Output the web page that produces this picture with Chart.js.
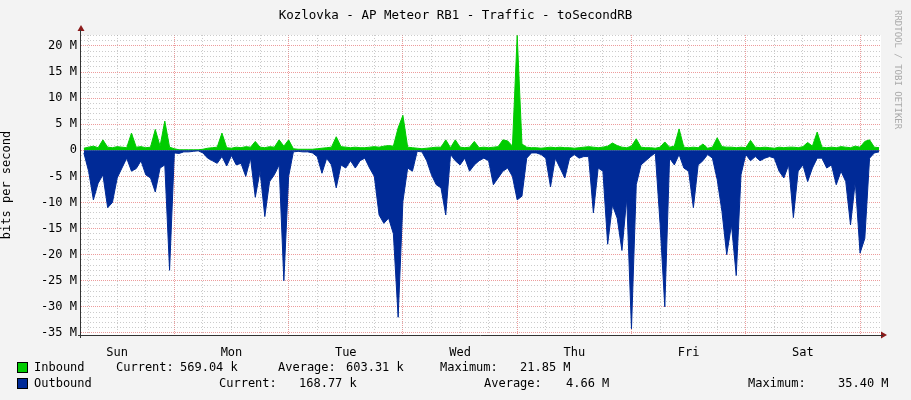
<!DOCTYPE html>
<html><head><meta charset="utf-8">
<script src="https://cdn.jsdelivr.net/npm/chart.js@4"></script>
<style>
body{margin:0;background:#f3f3f3;width:911px;height:400px;overflow:hidden;font-family:"DejaVu Sans Mono",monospace;}
#wrap{position:absolute;left:0;top:0;width:911px;height:400px;}
#title{position:absolute;top:7px;left:0;width:911px;text-align:center;font-size:12.5px;color:#000;}
#side{position:absolute;left:893px;top:10px;writing-mode:vertical-rl;font-size:9px;color:#aaa;}
.leg{position:absolute;font-size:12px;color:#000;white-space:pre;}
.sw{position:absolute;width:9px;height:9px;border:1px solid #000;}
</style></head><body>
<div id="wrap"><canvas id="c" width="911" height="400"></canvas></div>
<div id="title">Kozlovka - AP Meteor RB1 - Traffic - toSecondRB</div>
<div id="side">RRDTOOL / TOBI OETIKER</div>
<div class="sw" style="left:17px;top:362px;background:#00cc00"></div>
<div class="leg" style="left:34px;top:360px">Inbound</div>
<div class="leg" style="left:116px;top:360px">Current:</div>
<div class="leg" style="left:180px;top:360px">569.04 k</div>
<div class="leg" style="left:278px;top:360px">Average:</div>
<div class="leg" style="left:346px;top:360px">603.31 k</div>
<div class="leg" style="left:440px;top:360px">Maximum:</div>
<div class="leg" style="left:520px;top:360px">21.85 M</div>
<div class="sw" style="left:17px;top:378px;background:#002a97"></div>
<div class="leg" style="left:34px;top:376px">Outbound</div>
<div class="leg" style="left:219px;top:376px">Current:</div>
<div class="leg" style="left:299px;top:376px">168.77 k</div>
<div class="leg" style="left:484px;top:376px">Average:</div>
<div class="leg" style="left:566px;top:376px">4.66 M</div>
<div class="leg" style="left:748px;top:376px">Maximum:</div>
<div class="leg" style="left:838px;top:376px">35.40 M</div>
<script>
const startHour = 5; // first sample: Sunday 05:00 (hours since Sunday 00:00)
const dayLabels = ["Sun","Mon","Tue","Wed","Thu","Fri","Sat"];
const yTicks = [-35,-30,-25,-20,-15,-10,-5,0,5,10,15,20];
const outbound = [
-0.5,-4,-9.5,-6.3,-4.7,-11,-10,-5.3,-3.4,-1.5,-4,-3.5,-2,-4.7,-5.3,-8,-3.4,-2.8,-23,-0.5,
-0.6,-0.3,-0.3,-0.2,-0.1,-0.5,-1.5,-2,-2.5,-1.2,-3,-1,-2.8,-2.5,-5,-1.5,-9,-4,-12.7,-6,-4.7,-2.8,-25,-5,
-0.3,-0.2,-0.3,-0.3,-0.5,-1.2,-4.4,-1.5,-2.8,-7.2,-2.8,-3.4,-2,-3.4,-2,-1.5,-3.4,-5,-12.4,-14,-13,-16,-32,-9.8,
-3.4,-4,-0.2,-0.3,-2,-4.7,-6.6,-7.2,-12.4,-0.8,-2,-2.8,-1.5,-4,-2.8,-2,-1.5,-2,-6.6,-5.3,-4,-3.4,-5,-9.5,
-8.8,-1.5,-0.5,-0.5,-0.8,-1.5,-7,-1.5,-3.4,-5.3,-1.5,-0.8,-1.5,-1.2,-1.2,-12,-3.4,-4,-18,-10.5,-13,-19.2,-9.2,-34.2,
-6.6,-2.8,-2,-1.2,-0.5,-14,-30,-1.5,-2.8,-0.8,-3.4,-4,-11,-2.8,-2,-0.8,-1.5,-5.6,-11.7,-20,-14.3,-24,-4.7,-0.8,
-2,-1.2,-2,-1.5,-1.2,-1.5,-4,-5.3,-2.8,-12.9,-4,-2.8,-6,-3.4,-1.5,-1.5,-3.4,-2.8,-6.6,-4,-6,-14.3,-6,-19.7,
-16.9,-1.5,-0.5,-0.3];
const inbound = [
0.4,0.6,0.8,0.5,2,0.6,0.5,0.7,0.6,0.5,3.3,0.6,0.7,0.5,0.6,4,0.8,5.6,0.6,0.3,
0.1,0.1,0.1,0.1,0.1,0.2,0.4,0.5,0.6,3.3,0.5,0.4,0.6,0.5,0.7,0.6,1.7,0.6,0.5,0.7,0.6,2,0.8,2,
0.3,0.2,0.2,0.2,0.2,0.3,0.4,0.5,0.6,2.6,0.7,0.6,0.5,0.6,0.5,0.5,0.6,0.7,0.6,0.8,0.9,0.8,4.3,6.7,
0.6,0.5,0.4,0.3,0.4,0.5,0.6,0.6,2,0.5,2,0.6,0.5,0.6,1.7,0.5,0.6,0.5,0.6,0.7,2,1.8,0.8,22,
1.2,0.6,0.5,0.5,0.4,0.5,0.6,0.5,0.6,0.5,0.5,0.4,0.5,0.6,0.7,0.6,0.5,0.6,0.8,1.4,0.9,0.6,0.5,0.8,
2.2,0.6,0.5,0.5,0.4,0.6,1.6,0.6,0.8,4.1,0.6,0.5,0.6,0.5,1.2,0.4,0.6,2.4,0.7,0.6,0.6,0.5,0.6,0.5,
1.9,0.6,0.5,0.6,0.5,0.4,0.6,0.5,0.6,0.6,0.5,0.7,1.5,0.8,3.5,0.6,0.5,0.6,0.5,0.7,0.6,0.5,0.8,0.6,
1.7,2,0.6,0.5];
const toPts = a => a.map((v,i)=>({x:startHour+i,y:v}));
const GRID_MAJ='rgba(225,90,90,0.6)', GRID_MIN='rgba(160,160,160,0.55)';
const arrows={id:'arrows',afterDraw(ch){const c=ch.ctx,a=ch.chartArea;c.save();c.fillStyle='#8b1a1a';
c.beginPath();c.moveTo(a.left-3.5,a.top-4);c.lineTo(a.left+3.5,a.top-4);c.lineTo(a.left,a.top-10);c.fill();
c.beginPath();c.moveTo(a.right,a.bottom-3.5);c.lineTo(a.right,a.bottom+3.5);c.lineTo(a.right+6,a.bottom);c.fill();
c.strokeStyle='#333';c.lineWidth=1;c.beginPath();c.moveTo(a.left-0.5,a.top-5);c.lineTo(a.left-0.5,a.bottom+3);c.moveTo(a.left-3,a.bottom+0.5);c.lineTo(a.right+2,a.bottom+0.5);c.stroke();c.restore();}};
const bg={id:'bg',beforeDraw(ch){const c=ch.ctx,a=ch.chartArea;c.save();c.fillStyle='#fff';c.fillRect(a.left,a.top,a.right-a.left,a.bottom-a.top);c.restore();}};
new Chart(document.getElementById('c'),{
type:'line',
data:{datasets:[
{label:'Outbound',data:toPts(outbound),borderColor:'#002a97',backgroundColor:'#002a97',fill:'origin',borderWidth:1,pointRadius:0,tension:0},
{label:'Inbound',data:toPts(inbound),borderColor:'#00cc00',backgroundColor:'#00cc00',fill:'origin',borderWidth:1,pointRadius:0,tension:0}]},
options:{responsive:false,animation:false,
layout:{padding:{top:35,right:30,left:0,bottom:0}},
plugins:{legend:{display:false},tooltip:{enabled:false}},
scales:{
xmin:{type:'linear',min:4.4,max:172.4,display:true,position:'bottom',
 afterBuildTicks(s){s.ticks=[];for(let h=6;h<=168;h+=6)if(h%24)s.ticks.push({value:h});},
 ticks:{display:false},border:{display:false,dash:[1,2]},grid:{color:GRID_MIN,lineWidth:1,drawTicks:false},afterFit(s){s.height=0;}},
xday:{type:'linear',min:4.4,max:172.4,display:true,position:'bottom',
 afterBuildTicks(s){s.ticks=[];for(let h=24;h<=168;h+=24)s.ticks.push({value:h});},
 ticks:{display:false},border:{display:false,dash:[1,1]},grid:{color:GRID_MAJ,lineWidth:1,drawTicks:false},afterFit(s){s.height=0;}},
x:{type:'linear',min:4.4,max:172.4,position:'bottom',
 afterBuildTicks(s){s.ticks=dayLabels.map((d,i)=>({value:12+24*i}));},
 ticks:{autoSkip:false,maxRotation:0,padding:3,color:'#000',font:{family:'DejaVu Sans Mono',size:12},callback:(v)=>dayLabels[Math.round((v-12)/24)]},
 border:{display:false},grid:{display:false},afterFit(s){s.height=65;}},
ymin:{type:'linear',min:-35.4,max:22.1,position:'left',
 afterBuildTicks(s){s.ticks=[];for(let v=-35;v<=22;v++)if(v%5)s.ticks.push({value:v});},
 ticks:{display:false},border:{display:false,dash:[1,2]},grid:{color:GRID_MIN,drawTicks:false},afterFit(s){s.width=0;}},
y:{type:'linear',min:-35.4,max:22.1,position:'left',
 afterBuildTicks(s){s.ticks=yTicks.map(v=>({value:v}));},
 ticks:{color:'#000',padding:4,font:{family:'DejaVu Sans Mono',size:12},callback:v=>v===0?'0':v+' M'},
 title:{display:true,text:'bits per second',color:'#000',font:{family:'DejaVu Sans Mono',size:12},padding:{top:0,bottom:2}},
 border:{display:false,dash:[1,1]},grid:{color:GRID_MAJ,drawTicks:false},afterFit(s){s.width=81;}}
}},
plugins:[bg,arrows]});
</script></body></html>
